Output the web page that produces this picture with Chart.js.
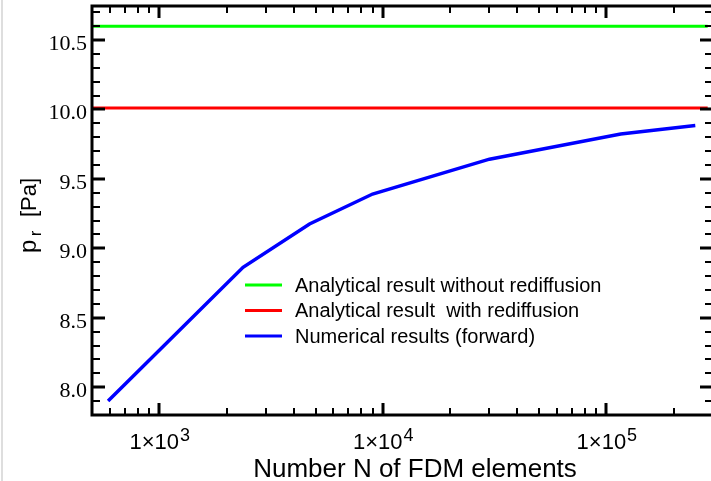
<!DOCTYPE html>
<html>
<head>
<meta charset="utf-8">
<script src="https://cdn.jsdelivr.net/npm/chart.js@4"></script>
<style>
  html, body { margin: 0; padding: 0; overflow: hidden; background: #fff; }
  #wrap { width: 716px; height: 481px; position: relative; }
  canvas { display: block; }
</style>
</head>
<body>
<div id="wrap"><canvas id="c" width="716" height="481"></canvas></div>
<script>
// Number of FDM elements and the resulting radiation pressure (numerical solution)
const elementCounts = [590, 2370, 4700, 9000, 30000, 116000, 250000];
const numericalPressure = [7.90, 8.863, 9.175, 9.391, 9.642, 9.824, 9.884];

// Analytical reference levels, drawn across the N range
const analyticalSpan = [500, 284000];
const pressureWithoutRediffusion = 10.6;
const pressureWithRediffusion = 10.01;

const seriesLabels = [
  'Analytical result without rediffusion',
  'Analytical result  with rediffusion',
  'Numerical results (forward)'
];
const seriesColors = ['#00ff00', '#ff0000', '#0000ff'];

// Axis ticks
const xMajorTicks = [1e3, 1e4, 1e5];
const xTickExponents = ['3', '4', '5'];
const yTickValues = [8.0, 8.5, 9.0, 9.5, 10.0, 10.5];
const yTickLabels = ['8.0', '8.5', '9.0', '9.5', '10.0', '10.5'];

const xRange = [500, 300000];
const yRange = [7.8, 10.745];

const SANS = '"Liberation Sans", Arial, Helvetica, sans-serif';
const SERIF = '"Liberation Serif", "Times New Roman", serif';

const flat = (level) => analyticalSpan.map(n => ({ x: n, y: level }));

const datasets = [
  { label: seriesLabels[0], data: flat(pressureWithoutRediffusion), borderColor: seriesColors[0], borderWidth: 3 },
  { label: seriesLabels[1], data: flat(pressureWithRediffusion), borderColor: seriesColors[1], borderWidth: 3 },
  { label: seriesLabels[2], data: elementCounts.map((n, i) => ({ x: n, y: numericalPressure[i] })), borderColor: seriesColors[2], borderWidth: 3.5 }
].map(d => Object.assign(d, { pointRadius: 0, tension: 0, fill: false }));

// Frame, inward ticks, tick labels, axis titles and the in-plot legend
const decorations = {
  id: 'decorations',
  beforeDraw(chart) {
    const ctx = chart.ctx;
    ctx.save();
    ctx.fillStyle = '#fff';
    ctx.fillRect(0, 0, chart.width, chart.height);
    ctx.fillStyle = '#dedede';
    ctx.fillRect(1, 0, 2, chart.height);
    ctx.restore();
  },
  afterDatasetsDraw(chart) {
    const { ctx, chartArea: a, scales: { x, y } } = chart;
    ctx.save();
    ctx.strokeStyle = '#000';
    ctx.lineCap = 'butt';

    // y ticks: majors every 0.5, minors every 0.1
    const tickY = (v, len, w) => {
      const py = Math.round(y.getPixelForValue(v));
      ctx.lineWidth = w;
      ctx.beginPath();
      ctx.moveTo(a.left, py); ctx.lineTo(a.left + len, py);
      ctx.moveTo(a.right, py); ctx.lineTo(a.right - len, py);
      ctx.stroke();
    };
    for (let k = Math.ceil(yRange[0] * 10); k <= Math.floor(yRange[1] * 10); k++) {
      if (k % 5 === 0) tickY(k / 10, 13, 3); else tickY(k / 10, 8, 2);
    }

    // x ticks on the log axis
    const tickX = (v, len, w) => {
      const px = Math.round(x.getPixelForValue(v));
      ctx.lineWidth = w;
      ctx.beginPath();
      ctx.moveTo(px, a.bottom); ctx.lineTo(px, a.bottom - len);
      ctx.moveTo(px, a.top); ctx.lineTo(px, a.top + len);
      ctx.stroke();
    };
    for (let e = 2; e <= 5; e++) {
      for (let m = 1; m <= 9; m++) {
        const v = m * Math.pow(10, e);
        if (v <= xRange[0] || v >= xRange[1]) continue;
        if (m === 1) tickX(v, 12, 3); else tickX(v, 7, 2);
      }
    }

    // frame
    ctx.lineWidth = 3;
    ctx.strokeRect(a.left, a.top, a.right - a.left, a.bottom - a.top);

    // y tick labels
    ctx.fillStyle = '#000';
    ctx.font = '22px ' + SERIF;
    ctx.textAlign = 'right';
    ctx.textBaseline = 'alphabetic';
    yTickValues.forEach((v, i) => {
      ctx.fillText(yTickLabels[i], a.left - 5, y.getPixelForValue(v) + 10);
    });

    // x tick labels: 1×10^n
    ctx.textAlign = 'left';
    xMajorTicks.forEach((v, i) => {
      const px = x.getPixelForValue(v);
      ctx.font = '22px ' + SANS;
      const base = '1\u00d710';
      const wb = ctx.measureText(base).width;
      ctx.font = '18px ' + SANS;
      const we = ctx.measureText(xTickExponents[i]).width;
      const x0 = px - (wb + we) / 2;
      ctx.font = '22px ' + SANS;
      ctx.fillText(base, x0, a.bottom + 34);
      ctx.font = '18px ' + SANS;
      ctx.fillText(xTickExponents[i], x0 + wb + 1, a.bottom + 25.5);
    });

    // x axis title
    ctx.font = '26px ' + SANS;
    ctx.textAlign = 'center';
    ctx.fillText('Number N of FDM elements', 415, 477);

    // y axis title with subscript
    ctx.save();
    ctx.translate(36, 253);
    ctx.rotate(-Math.PI / 2);
    ctx.textAlign = 'left';
    ctx.font = '24px ' + SANS;
    ctx.fillText('p', 0, 0);
    ctx.font = '16px ' + SANS;
    ctx.fillText('r', 17, 5);
    ctx.font = '22px ' + SANS;
    ctx.fillText('[Pa]', 36, 0);
    ctx.restore();

    // legend
    ctx.font = '20px ' + SANS;
    ctx.textAlign = 'left';
    chart.data.datasets.forEach((d, i) => {
      const ly = 285 + i * 25.5;
      ctx.strokeStyle = d.borderColor;
      ctx.lineWidth = 3;
      ctx.beginPath();
      ctx.moveTo(245, ly); ctx.lineTo(282, ly);
      ctx.stroke();
      ctx.fillStyle = '#000';
      ctx.fillText(d.label, 295, ly + 6.5);
    });
    ctx.restore();
  }
};

new Chart(document.getElementById('c'), {
  type: 'line',
  data: { datasets },
  options: {
    responsive: false,
    animation: false,
    devicePixelRatio: 1,
    layout: { padding: { left: 92, top: 6, right: 3, bottom: 66 } },
    plugins: { legend: { display: false }, tooltip: { enabled: false } },
    scales: {
      x: { type: 'logarithmic', min: xRange[0], max: xRange[1], display: false },
      y: { type: 'linear', min: yRange[0], max: yRange[1], display: false }
    }
  },
  plugins: [decorations]
});
</script>
</body>
</html>
